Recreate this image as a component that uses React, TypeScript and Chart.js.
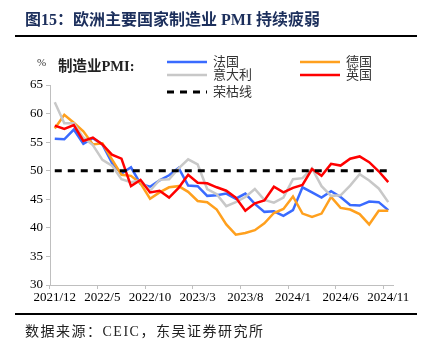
import React, { useEffect, useRef } from "react";
import { Chart, registerables } from "chart.js";

Chart.register(...registerables);

const months = [
  "2021/12", "2022/1", "2022/2", "2022/3", "2022/4", "2022/5", "2022/6", "2022/7", "2022/8", "2022/9", "2022/10", "2022/11",
  "2022/12", "2023/1", "2023/2", "2023/3", "2023/4", "2023/5", "2023/6", "2023/7", "2023/8", "2023/9", "2023/10", "2023/11",
  "2023/12", "2024/1", "2024/2", "2024/3", "2024/4", "2024/5", "2024/6", "2024/7", "2024/8", "2024/9", "2024/10", "2024/11",
];

const france = [
  55.6, 55.5, 57.2, 54.7, 55.7, 54.6, 51.4, 49.5, 50.6, 47.7, 47.2, 48.3,
  49.2, 50.5, 47.4, 47.3, 45.6, 45.7, 46.0, 45.1, 46.0, 44.2, 42.8, 42.9,
  42.1, 43.1, 47.1, 46.2, 45.3, 46.4, 45.4, 44.0, 43.9, 44.6, 44.5, 43.1,
];

const germany = [
  57.4, 59.8, 58.4, 56.9, 54.6, 54.8, 52.0, 49.3, 49.1, 47.8, 45.1, 46.2,
  47.1, 47.3, 46.3, 44.7, 44.5, 43.2, 40.6, 38.8, 39.1, 39.6, 40.8, 42.6,
  43.3, 45.5, 42.5, 41.9, 42.5, 45.4, 43.5, 43.2, 42.4, 40.6, 43.0, 43.0,
];

const italy = [
  62.0, 58.3, 58.3, 55.8, 54.5, 51.9, 50.9, 48.5, 48.0, 48.3, 46.5, 48.4,
  48.5, 50.4, 52.0, 51.1, 46.8, 45.9, 43.8, 44.5, 45.4, 46.8, 44.9, 44.4,
  45.3, 48.5, 48.7, 50.4, 47.3, 45.6, 45.7, 47.4, 49.4, 48.3, 46.9, 44.5,
];

const uk = [
  57.9, 57.3, 58.0, 55.2, 55.8, 54.6, 52.8, 52.1, 47.3, 48.4, 46.2, 46.5,
  45.3, 47.0, 49.3, 47.9, 47.8, 47.1, 46.5, 45.3, 43.0, 44.3, 44.8, 47.2,
  46.2, 47.0, 47.5, 50.3, 49.1, 51.2, 50.9, 52.1, 52.5, 51.5, 49.9, 48.0,
];

const boomBust = months.map(() => 50);

const seriesNames = ["法国", "德国", "意大利", "英国", "荣枯线"];
const seriesColors = ["#3A6BFF", "#FFA01E", "#C8C8C8", "#FF0000", "#000000"];

const yMin = 30;
const yMax = 65;
const yStep = 5;
const labelEvery = 5;

const serif = '"Liberation Serif", "Times New Roman", "Noto Sans CJK SC", serif';

function LegendItem(props: { x: number; y: number; color: string; text: string; dashed?: boolean }) {
  const { x, y, color, text, dashed } = props;
  return (
    <div style={{ position: "absolute", left: x, top: y - 8, height: 16, display: "flex", alignItems: "center" }}>
      <svg width={40} height={6} style={{ display: "block" }}>
        <line
          x1={0}
          y1={3}
          x2={40}
          y2={3}
          stroke={color}
          strokeWidth={dashed ? 3 : 2.5}
          strokeDasharray={dashed ? "7 6" : undefined}
        />
      </svg>
      <span
        style={{
          marginLeft: 6,
          fontFamily: serif,
          fontSize: 13,
          lineHeight: "16px",
          color: "#333333",
          whiteSpace: "nowrap",
        }}
      >
        {text}
      </span>
    </div>
  );
}

export default function App() {
  const canvasRef = useRef<HTMLCanvasElement | null>(null);

  useEffect(() => {
    const canvas = canvasRef.current;
    if (!canvas) return;
    const data = [france, germany, italy, uk, boomBust];
    const chart = new Chart(canvas, {
      type: "line",
      data: {
        labels: months,
        datasets: data.map((d, i) => ({
          label: seriesNames[i],
          data: d,
          borderColor: seriesColors[i],
          backgroundColor: seriesColors[i],
          borderWidth: i === 4 ? 3 : 2.5,
          borderDash: i === 4 ? [7, 6] : [],
          pointRadius: 0,
          tension: 0,
          fill: false,
          order: 5 - i,
        })),
      },
      options: {
        responsive: false,
        animation: false,
        devicePixelRatio: 1,
        layout: { padding: { left: 10, right: 35, top: 85, bottom: 37 } },
        plugins: {
          legend: { display: false },
          tooltip: { enabled: false },
          title: { display: false },
        },
        scales: {
          x: {
            type: "category",
            offset: true,
            afterFit: (s: any) => {
              s.height = 30;
            },
            grid: {
              offset: true,
              drawOnChartArea: false,
              drawTicks: true,
              tickLength: 4,
              tickColor: (ctx: any) => (ctx.index % labelEvery === 0 ? "#BFBFBF" : "rgba(0,0,0,0)"),
            },
            border: { display: true, color: "#BFBFBF", width: 1 },
            ticks: {
              autoSkip: false,
              maxRotation: 0,
              minRotation: 0,
              padding: 1,
              color: "#000000",
              font: { family: serif, size: 13 },
              callback: (_v: any, idx: number) => (idx % labelEvery === 0 ? months[idx] : ""),
            },
          },
          y: {
            min: yMin,
            max: yMax,
            afterFit: (s: any) => {
              s.width = 40;
            },
            grid: {
              drawOnChartArea: false,
              drawTicks: true,
              tickLength: 4,
              tickColor: "#BFBFBF",
            },
            border: { display: true, color: "#BFBFBF", width: 1 },
            ticks: {
              stepSize: yStep,
              padding: 3,
              color: "#000000",
              font: { family: serif, size: 13 },
            },
          },
        },
      },
    });
    return () => chart.destroy();
  }, []);

  return (
    <div style={{ position: "absolute", left: 0, top: 0, width: 428, height: 352, background: "#ffffff", overflow: "hidden" }}>
      <canvas ref={canvasRef} width={428} height={352} style={{ position: "absolute", left: 0, top: 0, width: 428, height: 352 }} />
      <div
        style={{
          position: "absolute",
          left: 25,
          top: 12,
          fontFamily: serif,
          fontWeight: 700,
          fontSize: 16,
          lineHeight: "16px",
          color: "#1C2F5C",
          whiteSpace: "nowrap",
        }}
      >
        图15：欧洲主要国家制造业 PMI 持续疲弱
      </div>
      <div style={{ position: "absolute", left: 15, top: 35, width: 402, height: 2, background: "#000000" }} />
      <div style={{ position: "absolute", left: 37, top: 56, fontFamily: serif, fontSize: 11, lineHeight: "12px", color: "#333333" }}>%</div>
      <div
        style={{
          position: "absolute",
          left: 58,
          top: 59,
          fontFamily: serif,
          fontWeight: 700,
          fontSize: 14.5,
          lineHeight: "15px",
          color: "#222222",
          whiteSpace: "nowrap",
        }}
      >
        制造业PMI:
      </div>
      <LegendItem x={167} y={62} color={seriesColors[0]} text={seriesNames[0]} />
      <LegendItem x={300} y={62} color={seriesColors[1]} text={seriesNames[1]} />
      <LegendItem x={167} y={75} color={seriesColors[2]} text={seriesNames[2]} />
      <LegendItem x={300} y={75} color={seriesColors[3]} text={seriesNames[3]} />
      <LegendItem x={167} y={91.5} color={seriesColors[4]} text={seriesNames[4]} dashed />
      <div style={{ position: "absolute", left: 15, top: 313, width: 402, height: 2, background: "#000000" }} />
      <div
        style={{
          position: "absolute",
          left: 25,
          top: 325,
          fontFamily: serif,
          fontSize: 14,
          lineHeight: "14px",
          letterSpacing: "1.5px",
          color: "#222222",
          whiteSpace: "nowrap",
        }}
      >
        数据来源：CEIC，东吴证券研究所
      </div>
    </div>
  );
}
